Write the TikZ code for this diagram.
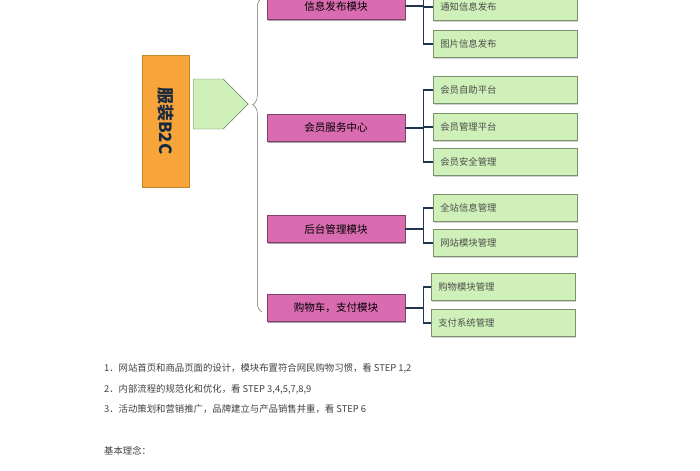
\documentclass[tikz,border=0pt]{standalone}
\usepackage{fontspec}
\setmainfont{Liberation Serif}
\newfontfamily\cjk{Noto Sans CJK SC}
\usetikzlibrary{positioning,shadows,shapes.arrows,decorations.pathreplacing}
\definecolor{myOrange}{HTML}{F7A43A}
\definecolor{myPink}{HTML}{D96BB0}
\definecolor{myGreen}{HTML}{CFF0B8}
\definecolor{myNavy}{HTML}{1F3550}
\tikzset{
  topbox/.style={draw=myOrange!80!black,fill=myOrange,minimum width=1.4cm,minimum height=3.96cm,
    font=\cjk\bfseries\Large,text=myNavy!80!black,inner sep=0pt},
  modbox/.style={draw=myPink!60!black,fill=myPink,minimum width=4.14cm,minimum height=0.8cm,
    font=\cjk\small,drop shadow={shadow xshift=1pt,shadow yshift=-1.5pt,fill=black!70},inner sep=0pt},
  leafbox/.style={draw=myGreen!60!black,fill=myGreen,minimum width=4.32cm,minimum height=0.8cm,
    font=\cjk\footnotesize,text=black!70,anchor=west,drop shadow={shadow xshift=1pt,shadow yshift=-1pt,fill=black!35},
    inner xsep=6pt,text width=3.9cm,align=left},
  link/.style={draw=myNavy,line width=1.2pt},
  note/.style={font=\cjk\footnotesize,text=black!75,anchor=west},
}
\begin{document}
\begin{tikzpicture}[x=0.03cm,y=-0.03cm]
  \useasboundingbox (0,0) rectangle (700,470);
  \clip (0,0) rectangle (700,470);

  % root and arrow
  \node[topbox] (root) at (166,121) {\rotatebox{-90}{服装B2C}};
  \node[single arrow,draw=myGreen!50!black,fill=myGreen,minimum height=1.65cm,minimum width=1.5cm,
    single arrow head extend=0pt,inner sep=0pt,anchor=west] (arrow) at (193,104) {};

  % brace
  \draw[black!60,decorate,decoration={brace,amplitude=8pt,aspect=0.34,mirror}]
    (262,-2) -- (262,312);

  % modules
  \node[modbox] (info) at (336,6) {信息发布模块};
  \node[modbox] (member) at (336,128) {会员服务中心};
  \node[modbox] (admin) at (336,229) {后台管理模块};
  \node[modbox] (cart) at (336,308) {购物车，支付模块};

  % leaves
  \coordinate (news) at (433,-30);
  \node[leafbox] (notice) at (433,7) {通知信息发布};
  \node[leafbox] (photo) at (433,44) {图片信息发布};
  \node[leafbox] (self) at (433,90) {会员自助平台};
  \node[leafbox] (mgr) at (433,127) {会员管理平台};
  \node[leafbox] (safe) at (433,162) {会员安全管理};
  \node[leafbox] (site) at (433,208) {全站信息管理};
  \node[leafbox] (block) at (433,243) {网站模块管理};
  \node[leafbox] (shop) at (431,287) {购物模块管理};
  \node[leafbox] (pay) at (431,323) {支付系统管理};

  % connectors
  \draw[link] ([xshift=0.55cm]info.east) -- ([xshift=0.55cm]info.east|-news);
  \foreach \m/\kids in {info/{notice,photo},member/{self,mgr,safe},admin/{site,block},cart/{shop,pay}}{
    \coordinate (\m bus) at ([xshift=0.55cm]\m.east);
    \draw[link] (\m.east) -- (\m bus);
    \foreach \k in \kids
      \draw[link] (\m bus) |- (\k.west);
  }

  % notes
  \node[note] (n1) at (100,368) {1．网站首页和商品页面的设计，模块布置符合网民购物习惯，看 STEP 1,2};
  \node[note] (n2) at (100,389) {2．内部流程的规范化和优化，看 STEP 3,4,5,7,8,9};
  \node[note] (n3) at (100,409) {3．活动策划和营销推广，品牌建立与产品销售并重，看 STEP 6};
  \node[note] (n4) at (100,451) {基本理念：};
\end{tikzpicture}
\end{document}
